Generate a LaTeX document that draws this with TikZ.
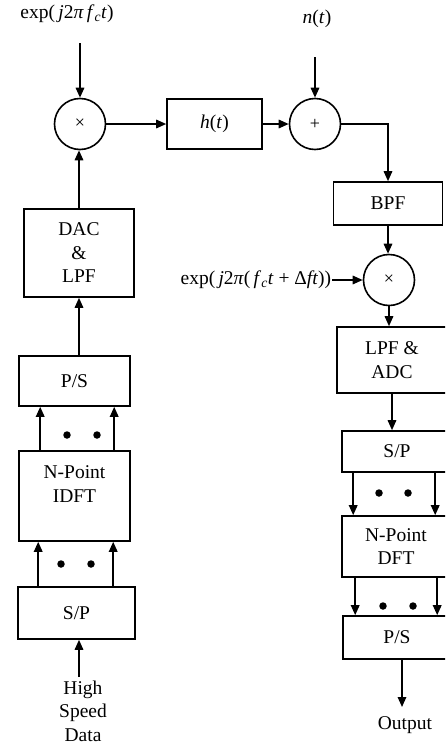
\documentclass[tikz,border=0pt]{standalone}
\usepackage{fontspec}
\setmainfont{Liberation Serif}
\usetikzlibrary{arrows.meta,calc}
\begin{document}
\begin{tikzpicture}[x=1pt,y=-1pt,
  line width=1.6pt,
  every node/.style={font=\fontsize{19.5}{23.5}\selectfont},
  arr/.style={-{Triangle[length=10pt,width=8.5pt]}},
  blk/.style={draw,rectangle,inner sep=0pt,align=center},
  mix/.style={draw,circle,inner sep=0pt,minimum size=51pt,font=\fontsize{18}{18}\selectfont},
  dotn/.style={circle,fill,draw=none,inner sep=0pt,minimum size=7.5pt},
  lbl/.style={inner sep=0pt,align=center}]
\useasboundingbox (0,0) rectangle (445,745);
\clip (0,0) rectangle (445,745);

% ---------- transmitter top ----------
\node[lbl] (lab1) at (67,14) {exp(\,\textit{j}2\textit{π}\,\textit{f}\textsubscript{\textit{c}}\textit{t})};
\coordinate (in1) at (80,43);
\node[mix] (mult1) at (80,124) {×};
\node[blk,minimum width=95pt,minimum height=50pt] (hbox) at (214.5,124) {\textit{h}(\textit{t})};
\node[mix] (plus) at (315,124) {+};
\node[lbl] (nlab) at (317,19) {\textit{n}(\textit{t})};
\coordinate (in2) at (315,57);

% ---------- receiver ----------
\node[blk,minimum width=109pt,minimum height=43pt] (bpf) at (388,203.5) {BPF};
\node[mix] (mult2) at (389,280) {×};
\node[lbl,anchor=east] (lab2) at (332,280) {exp(\,\textit{j}2\textit{π}(\,\textit{f}\textsubscript{\textit{c}}\textit{t} + Δ\textit{ft}))};
\node[blk,minimum width=110pt,minimum height=66pt] (lpf) at (392,360) {LPF \&\\ADC};
\node[blk,minimum width=110pt,minimum height=41pt] (sp2) at (397,451.5) {S/P};
\node[blk,minimum width=108pt,minimum height=61pt] (dft) at (396,546.5) {N-Point\\DFT};
\node[blk,minimum width=108pt,minimum height=43pt] (ps2) at (397,637.5) {P/S};
\node[lbl] (out) at (405,725) {Output};
\coordinate (outtop) at (402,707);
\node[dotn] (d1) at (379,493) {};
\node[dotn] (d2) at (408,493) {};
\node[dotn] (d3) at (383,606) {};
\node[dotn] (d4) at (413,606) {};

% ---------- transmitter left column ----------
\node[blk,minimum width=110pt,minimum height=88pt] (dac) at (79,253) {DAC\\\&\\LPF};
\node[blk,minimum width=111pt,minimum height=50pt] (ps1) at (74.5,381) {P/S};
\node[blk,minimum width=111pt,minimum height=90pt] (idft) at (74.5,496) {N-Point\\IDFT\\\phantom{I}};
\node[blk,minimum width=117pt,minimum height=52pt] (sp1) at (76.5,613) {S/P};
\node[lbl] (hsd) at (83,711) {High\\Speed\\Data};
\coordinate (hsdtop) at (79,677);
\node[dotn] (d5) at (67,435) {};
\node[dotn] (d6) at (97,435) {};
\node[dotn] (d7) at (61,564) {};
\node[dotn] (d8) at (91,564) {};

% ---------- connectors ----------
\draw[arr] (in1) -- (mult1.north);
\draw[arr] (mult1.east) -- (hbox.west);
\draw[arr] (hbox.east) -- (plus.west);
\draw[arr] (in2) -- (plus.north);
\draw[arr] (plus.east) -| (bpf.north);
\draw[arr] (bpf.south) -- (bpf.south |- mult2.north);
\draw[arr] (lab2.east) -- (lab2.east -| mult2.west);
\draw[arr] (mult2.south) -- (mult2.south |- lpf.north);
\draw[arr] (lpf.south) -- (lpf.south |- sp2.north);
\draw[arr] ([xshift=12pt]sp2.south west) -- ([xshift=12pt]sp2.south west |- dft.north);
\draw[arr] ([xshift=94pt]sp2.south west) -- ([xshift=94pt]sp2.south west |- dft.north);
\draw[arr] ([xshift=14pt]dft.south west) -- ([xshift=14pt]dft.south west |- ps2.north);
\draw[arr] ([xshift=96pt]dft.south west) -- ([xshift=96pt]dft.south west |- ps2.north);
\draw[arr] (ps2.south -| outtop) -- (outtop);

\draw[arr] (dac.north) -- (dac.north |- mult1.south);
\draw[arr] (ps1.north -| dac.south) -- (dac.south);
\draw[arr] ([xshift=22pt]idft.north west) -- ([xshift=22pt]idft.north west |- ps1.south);
\draw[arr] ([xshift=96pt]idft.north west) -- ([xshift=96pt]idft.north west |- ps1.south);
\draw[arr] ([xshift=21pt]sp1.north west) -- ([xshift=21pt]sp1.north west |- idft.south);
\draw[arr] ([xshift=96pt]sp1.north west) -- ([xshift=96pt]sp1.north west |- idft.south);
\draw[arr] (hsdtop) -- (hsdtop |- sp1.south);
\end{tikzpicture}
\end{document}
